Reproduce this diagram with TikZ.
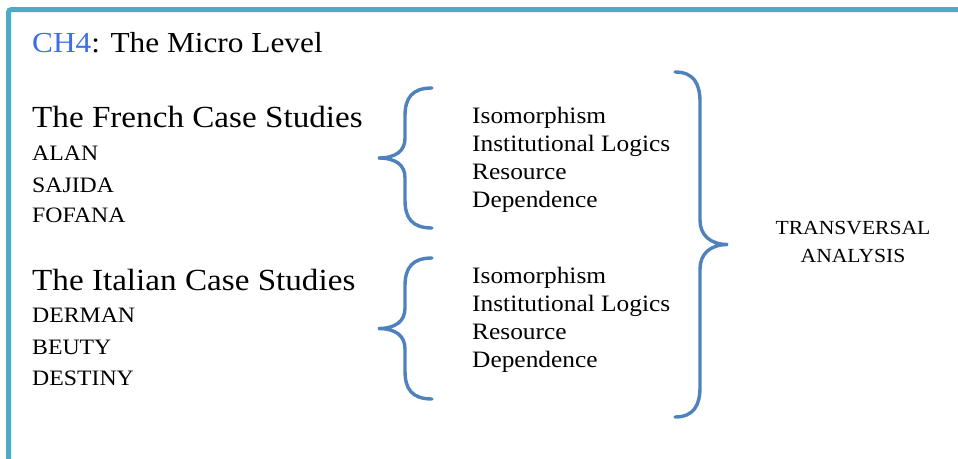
\documentclass[tikz,border=0pt]{standalone}
\usepackage{fontspec}
\setmainfont{Liberation Serif}[FakeStretch=1.08]
\definecolor{frame}{RGB}{75,172,198}
\definecolor{bracec}{RGB}{79,129,189}
\definecolor{chblue}{RGB}{60,110,230}
\begin{document}
\begin{tikzpicture}[x=1pt,y=-1pt,
  big/.style={anchor=base west,inner sep=0pt,font=\fontsize{30.7}{34}\selectfont},
  small/.style={anchor=base west,inner sep=0pt,font=\fontsize{22}{25}\selectfont},
  mid/.style={anchor=base west,inner sep=0pt,font=\fontsize{23.5}{26}\selectfont},
  tv/.style={anchor=base,inner sep=0pt,font=\fontsize{20}{23}\selectfont},
  bracel/.style={draw=bracec,line width=3.4pt,line cap=round}]
\useasboundingbox (0,0) rectangle (958,458);
% frame
\draw[frame,line width=5pt,rounded corners=3pt] (8.5,470) -- (8.5,9.5) -- (970,9.5);
% title
\node[anchor=base west,inner sep=0pt,font=\fontsize{29}{34}\selectfont] (title) at (32,52) {\textcolor{chblue}{CH4}: The Micro Level};
% French
\node[big] (fr) at (32,127) {The French Case Studies};
\node[small] (alan) at (32,160) {ALAN};
\node[small] (sajida) at (32,192) {SAJIDA};
\node[small] (fofana) at (32,222) {FOFANA};
% Italian
\node[big] (it) at (32,290) {The Italian Case Studies};
\node[small] (derman) at (32,322) {DERMAN};
\node[small] (beuty) at (32,354) {BEUTY};
\node[small] (destiny) at (32,385) {DESTINY};
% middle texts
\node[mid] (i1) at (472,123) {Isomorphism};
\node[mid] (l1) at (472,151) {Institutional Logics};
\node[mid] (r1) at (472,179) {Resource};
\node[mid] (d1) at (472,207) {Dependence};
\node[mid] (i2) at (472,283) {Isomorphism};
\node[mid] (l2) at (472,311) {Institutional Logics};
\node[mid] (r2) at (472,339) {Resource};
\node[mid] (d2) at (472,367) {Dependence};
% transversal
\node[tv] (ta) at (853,234) {TRANSVERSAL};
\node[tv] (tb) at (853,262) {ANALYSIS};
% braces
\draw[bracel] (432,88) .. controls (412,88) and (405,98) .. (405,116) -- (405,138)
  .. controls (405,151) and (396,158) .. (378,158)
  .. controls (396,158) and (405,165) .. (405,178) -- (405,200)
  .. controls (405,218) and (412,228) .. (432,228);
\draw[bracel] (432,258) .. controls (412,258) and (405,268) .. (405,286) -- (405,308)
  .. controls (405,321) and (396,328.5) .. (378,328.5)
  .. controls (396,328.5) and (405,336) .. (405,349) -- (405,371)
  .. controls (405,389) and (412,399) .. (432,399);
\draw[bracel] (675,72) .. controls (694,72) and (700,84) .. (700,102) -- (700,220)
  .. controls (700,235) and (710,244.5) .. (728,244.5)
  .. controls (710,244.5) and (700,254) .. (700,269) -- (700,387)
  .. controls (700,405) and (694,417) .. (675,417);
\end{tikzpicture}
\end{document}
